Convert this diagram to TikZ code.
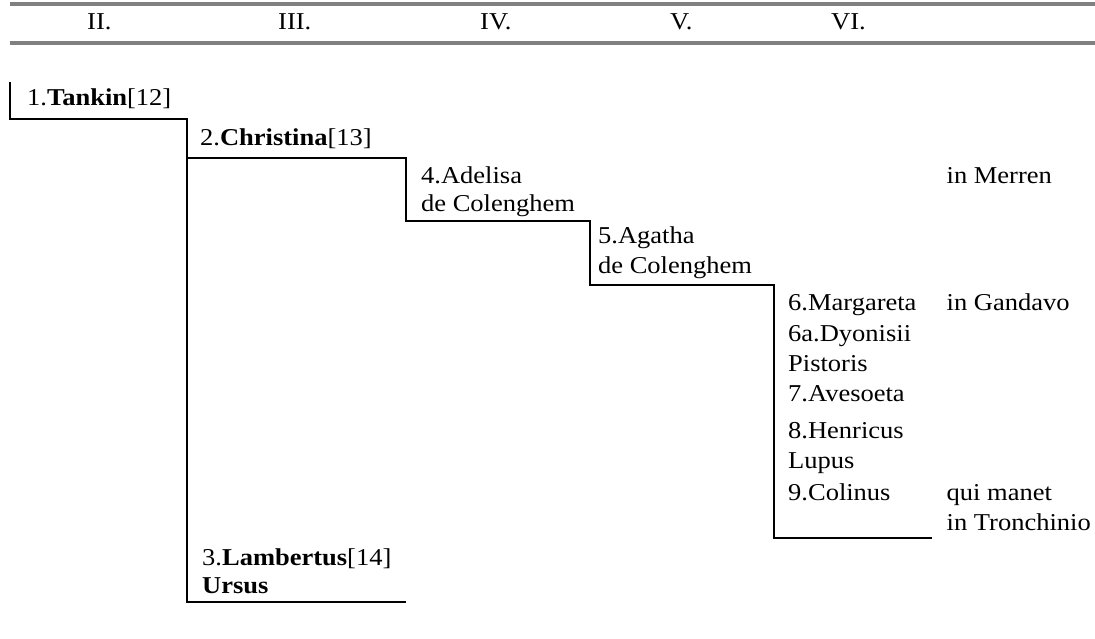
\documentclass[tikz,border=0pt]{standalone}
\usepackage{fontspec}
\setmainfont{Liberation Serif}[FakeStretch=1.095]
\definecolor{rulegray}{RGB}{128,128,128}
\begin{document}
\begin{tikzpicture}[x=1pt,y=-1pt,
  txt/.style={anchor=base west,inner sep=0pt,font=\fontsize{24.2}{30}\selectfont},
  rulebar/.style={draw=rulegray,line width=3.5pt},
  branch/.style={draw=black,line width=2.2pt}]
\useasboundingbox (0,0) rectangle (1095,639);
% header rules
\coordinate (hl1) at (10,4);   \coordinate (hr1) at (1095,4);
\coordinate (hl2) at (10,43);  \coordinate (hr2) at (1095,43);
\draw[rulebar] (hl1) -- (hr1);
\draw[rulebar] (hl2) -- (hr2);
% header numerals
\node[txt] (g2) at (87,29.5) {II.};
\node[txt] (g3) at (278,29.5) {III.};
\node[txt] (g4) at (480,29.5) {IV.};
\node[txt] (g5) at (670,29.5) {V.};
\node[txt] (g6) at (831,29.5) {VI.};
% persons
\node[txt] (p1) at (27,106) {1.\textbf{Tankin}[12]};
\node[txt] (p2) at (200,146) {2.\textbf{Christina}[13]};
\node[txt] (p4a) at (421,183.5) {4.Adelisa};
\node[txt] (p4b) at (421,212) {de Colenghem};
\node[txt] (p5a) at (598,243.5) {5.Agatha};
\node[txt] (p5b) at (598,273) {de Colenghem};
\node[txt] (loc4) at (946.5,183.5) {in Merren};
\node[txt] (p6) at (788,310.5) {6.Margareta};
\node[txt] (loc6) at (946.5,310.5) {in Gandavo};
\node[txt] (p6a) at (788,341.5) {6a.Dyonisii};
\node[txt] (p6b) at (788,371) {Pistoris};
\node[txt] (p7) at (788,401.5) {7.Avesoeta};
\node[txt] (p8a) at (788,438) {8.Henricus};
\node[txt] (p8b) at (788,468.5) {Lupus};
\node[txt] (p9) at (788,500) {9.Colinus};
\node[txt] (loc9a) at (946.5,500) {qui manet};
\node[txt] (loc9b) at (946.5,530) {in Tronchinio};
\node[txt] (p3a) at (202,565) {3.\textbf{Lambertus}[14]};
\node[txt] (p3b) at (202,593.5) {\textbf{Ursus}};
% branch corners
\coordinate (c1top) at (10,82);
\coordinate (c1) at (10,119);
\coordinate (c2) at (187,119);
\coordinate (c2b) at (187,158);
\coordinate (c3end) at (187,602);
\coordinate (c3r) at (406,602);
\coordinate (c4) at (406,158);
\coordinate (c4b) at (406,221);
\coordinate (c5) at (590,221);
\coordinate (c5b) at (590,285);
\coordinate (c6) at (774,285);
\coordinate (c6b) at (774,538);
\coordinate (c6r) at (932,538);
\draw[branch] (c1top) -- (c1) -- (c2) -- (c3end) -- (c3r);
\draw[branch] (c2b) -- (c4) -- (c4b) -- (c5) -- (c5b) -- (c6) -- (c6b) -- (c6r);
\end{tikzpicture}
\end{document}
